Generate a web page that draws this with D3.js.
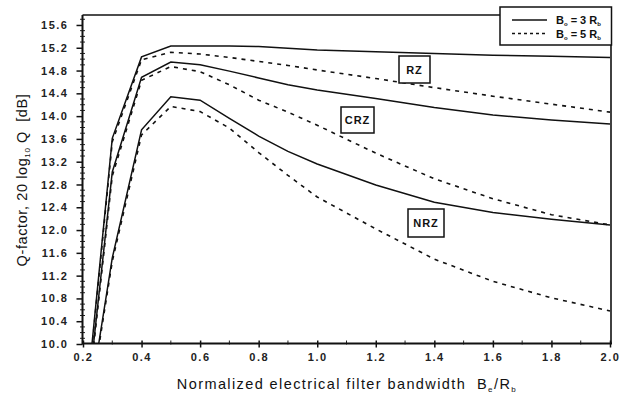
<!DOCTYPE html>
<html><head><meta charset="utf-8">
<script src="https://cdn.jsdelivr.net/npm/d3@7"></script>
<style>body{margin:0;background:#fff}svg{display:block}</style></head>
<body><svg id="c" width="620" height="396"></svg>
<script>
// ---- data ----
const xValues   = [0.2, 0.3, 0.4, 0.5, 0.6, 0.7, 0.8, 0.9, 1.0, 1.2, 1.4, 1.6, 1.8, 2.0];
const rzSolid   = [8.40, 13.61, 15.04, 15.23, 15.23, 15.23, 15.22, 15.19, 15.16, 15.13, 15.10, 15.07, 15.05, 15.03];
const rzDashed  = [8.35, 13.55, 14.99, 15.12, 15.09, 15.03, 14.96, 14.89, 14.81, 14.66, 14.50, 14.35, 14.21, 14.07];
const crzSolid  = [8.30, 13.02, 14.68, 14.95, 14.90, 14.79, 14.67, 14.55, 14.46, 14.31, 14.15, 14.02, 13.93, 13.86];
const crzDashed = [8.25, 12.95, 14.63, 14.87, 14.78, 14.55, 14.28, 14.07, 13.84, 13.35, 12.90, 12.55, 12.27, 12.09];
const nrzSolid  = [8.26, 11.51, 13.76, 14.34, 14.28, 13.96, 13.65, 13.38, 13.16, 12.79, 12.49, 12.31, 12.19, 12.09];
const nrzDashed = [8.20, 11.45, 13.67, 14.17, 14.08, 13.79, 13.36, 12.96, 12.58, 12.02, 11.49, 11.10, 10.81, 10.58];
const yTicks = [10.0, 10.4, 10.8, 11.2, 11.6, 12.0, 12.4, 12.8, 13.2, 13.6, 14.0, 14.4, 14.8, 15.2, 15.6];
const xTicks = [0.2, 0.4, 0.6, 0.8, 1.0, 1.2, 1.4, 1.6, 1.8, 2.0];
const curveLabels = ["RZ", "CRZ", "NRZ"];
const legendRatios = ["3", "5"];

// ---- layout ----
const svg = d3.select("#c");
const L = 82.5, R = 611, T = 15, B = 343.5;
const x = d3.scaleLinear().domain([0.2, 2.0]).range([83, 610]);
const y = d3.scaleLinear().domain([10, 15.775]).range([344, 15]);
const font = "Liberation Sans, Arial, sans-serif";

svg.append("defs").append("clipPath").attr("id", "clip")
  .append("rect").attr("x", L).attr("y", T).attr("width", R - L).attr("height", B - T);

// series
const series = [
  {v: rzSolid, dash: null}, {v: rzDashed, dash: "4,5"},
  {v: crzSolid, dash: null}, {v: crzDashed, dash: "4,5"},
  {v: nrzSolid, dash: null}, {v: nrzDashed, dash: "4,5"}
];
const line = d3.line().x((d, i) => x(xValues[i])).y(d => y(d));
const g = svg.append("g").attr("clip-path", "url(#clip)");
series.forEach(s => {
  g.append("path").attr("d", line(s.v)).attr("fill", "none")
    .attr("stroke", "#111").attr("stroke-width", s.dash ? 1.6 : 1.5)
    .attr("stroke-dasharray", s.dash);
});

// axes
const yAxis = d3.axisLeft(y).tickValues(yTicks).tickSize(6).tickPadding(8)
  .tickFormat(d3.format(".1f"));
const ya = svg.append("g").attr("transform", `translate(${L},0)`).call(yAxis);
ya.select(".domain").remove();
ya.selectAll("line").attr("stroke", "#111").attr("stroke-width", 1.5);
ya.selectAll("text").attr("font-family", font).attr("font-size", 11).attr("font-weight", "bold")
  .attr("letter-spacing", "1.5px").attr("fill", "#222");

const xAxis = d3.axisBottom(x).tickValues(xTicks).tickSize(4).tickPadding(6)
  .tickFormat(d3.format(".1f"));
const xa = svg.append("g").attr("transform", `translate(0,${B})`).call(xAxis);
xa.select(".domain").remove();
xa.selectAll("line").attr("stroke", "#111").attr("stroke-width", 1.5).attr("y1", -3);
xa.selectAll("text").attr("font-family", font).attr("font-size", 11).attr("font-weight", "bold")
  .attr("letter-spacing", "1.5px").attr("fill", "#222");

// minor ticks
const yMinor = d3.range(10.1, 15.75, 0.1).filter(v => !yTicks.some(t => Math.abs(t - v) < 1e-6));
svg.append("g").selectAll("line").data(yMinor).join("line")
  .attr("x1", L - 2.5).attr("x2", L + 2.5).attr("y1", d => y(d)).attr("y2", d => y(d))
  .attr("stroke", "#222").attr("stroke-width", 1);
const xMinor = d3.range(0.3, 2.0, 0.2);
svg.append("g").selectAll("line").data(xMinor).join("line")
  .attr("x1", d => x(d)).attr("x2", d => x(d)).attr("y1", B - 3).attr("y2", B + 1)
  .attr("stroke", "#222").attr("stroke-width", 1);

// frame
svg.append("line").attr("x1", L).attr("x2", L).attr("y1", T).attr("y2", B + 1)
  .attr("stroke", "#111").attr("stroke-width", 2);
svg.append("line").attr("x1", L).attr("x2", R + 1).attr("y1", B).attr("y2", B)
  .attr("stroke", "#111").attr("stroke-width", 2);
svg.append("line").attr("x1", L).attr("x2", 500).attr("y1", T).attr("y2", T)
  .attr("stroke", "#111").attr("stroke-width", 1.6);
svg.append("line").attr("x1", R).attr("x2", R).attr("y1", 45).attr("y2", B)
  .attr("stroke", "#111").attr("stroke-width", 1.6);

// legend
svg.append("rect").attr("x", 500).attr("y", 7).attr("width", 111.5).attr("height", 38)
  .attr("fill", "#fff").attr("stroke", "#111").attr("stroke-width", 1.5);
legendRatios.forEach((r, i) => {
  const ly = 20 + i * 13.5;
  svg.append("line").attr("x1", 512).attr("x2", 547).attr("y1", ly).attr("y2", ly)
    .attr("stroke", "#111").attr("stroke-width", 1.3).attr("stroke-dasharray", i ? "3,3" : null);
  const t = svg.append("text").attr("x", 556).attr("y", ly + 4)
    .attr("font-family", font).attr("font-size", 11).attr("font-weight", "bold").attr("fill", "#111");
  t.append("tspan").text("B");
  t.append("tspan").attr("font-size", 6).attr("dy", 2).text("o");
  t.append("tspan").attr("dy", -2).attr("dx", 3).text("= " + r + " R");
  t.append("tspan").attr("font-size", 6).attr("dy", 2).text("b");
});

// curve labels
const boxes = [[399, 56, 31, 27], [341, 107, 33, 26], [408, 209, 36, 28]];
curveLabels.forEach((lab, i) => {
  const [bx, by, bw, bh] = boxes[i];
  svg.append("rect").attr("x", bx).attr("y", by).attr("width", bw).attr("height", bh)
    .attr("fill", "#fff").attr("stroke", "#111").attr("stroke-width", 1.5);
  svg.append("text").attr("x", bx + bw / 2).attr("y", by + bh / 2 + 4)
    .attr("text-anchor", "middle").attr("font-family", font).attr("font-size", 11)
    .attr("font-weight", "bold").attr("letter-spacing", "1px").attr("fill", "#111").text(lab);
});

// axis titles
const xt = svg.append("text").attr("x", 347).attr("y", 389).attr("text-anchor", "middle")
  .attr("font-family", font).attr("font-size", 14.5).attr("letter-spacing", "1.4px").attr("fill", "#111");
xt.append("tspan").text("Normalized electrical filter bandwidth\u00a0\u00a0B");
xt.append("tspan").attr("font-size", 8).attr("dy", 3).text("e");
xt.append("tspan").attr("dy", -3).text("/R");
xt.append("tspan").attr("font-size", 8).attr("dy", 3).text("b");

const yt = svg.append("text").attr("transform", "translate(27,180) rotate(-90)").attr("text-anchor", "middle")
  .attr("font-family", font).attr("font-size", 14.5).attr("letter-spacing", "0.6px").attr("fill", "#111");
yt.append("tspan").text("Q-factor, 20 log");
yt.append("tspan").attr("font-size", 8).attr("dy", 3).text("10");
yt.append("tspan").attr("dy", -3).text(" Q\u00a0\u00a0[dB]");
</script></body></html>
